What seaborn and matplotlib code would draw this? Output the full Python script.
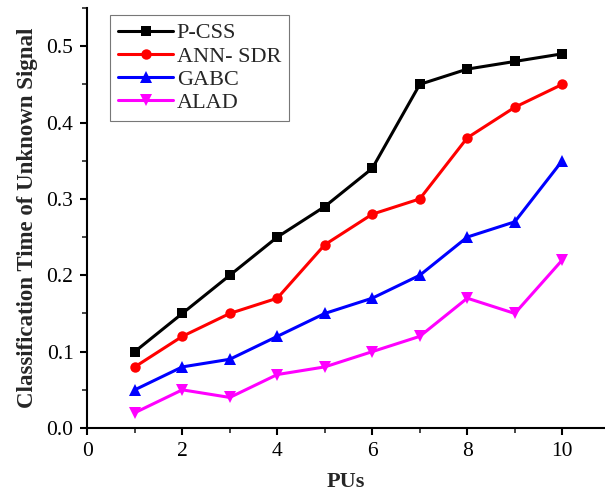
import pandas as pd
import matplotlib.pyplot as plt
from matplotlib.ticker import MultipleLocator
import seaborn as sns

pus = [1, 2, 3, 4, 5, 6, 7, 8, 9, 10]
pcss = [0.10, 0.15, 0.20, 0.25, 0.29, 0.34, 0.45, 0.47, 0.48, 0.49]
ann_sdr = [0.08, 0.12, 0.15, 0.17, 0.24, 0.28, 0.30, 0.38, 0.42, 0.45]
gabc = [0.05, 0.08, 0.09, 0.12, 0.15, 0.17, 0.20, 0.25, 0.27, 0.35]
alad = [0.02, 0.05, 0.04, 0.07, 0.08, 0.10, 0.12, 0.17, 0.15, 0.22]
names = ['P-CSS', 'ANN- SDR', 'GABC', 'ALAD']

df = pd.concat([
    pd.DataFrame({'PUs': pus, 'time': vals, 'method': name})
    for name, vals in zip(names, [pcss, ann_sdr, gabc, alad])
])

sns.set_style("ticks")
plt.rcParams['font.family'] = ['Liberation Serif', 'DejaVu Serif']

fig = plt.figure(figsize=(6.05, 4.94), dpi=100)
ax = fig.add_axes([0.1443, 0.1336, 0.8557, 0.8502])

ax = sns.lineplot(
    data=df, x='PUs', y='time', hue='method', style='method',
    markers={'P-CSS': 's', 'ANN- SDR': 'o', 'GABC': '^', 'ALAD': 'v'},
    dashes=False,
    palette={'P-CSS': '#000000', 'ANN- SDR': '#ff0000', 'GABC': '#0000ff', 'ALAD': '#ff00ff'},
    linewidth=2.2, markersize=7.5, markeredgewidth=0, ax=ax
)
# triangles look a bit larger in the original
for ln in ax.lines:
    if ln.get_marker() in ('^', 'v'):
        ln.set_markersize(9)

ax.set_xlim(0, 10.9)
ax.set_ylim(0, 0.55)
ax.xaxis.set_major_locator(MultipleLocator(2))
ax.xaxis.set_minor_locator(MultipleLocator(1))
ax.yaxis.set_major_locator(MultipleLocator(0.1))
ax.yaxis.set_minor_locator(MultipleLocator(0.05))
ax.yaxis.set_major_formatter(plt.FuncFormatter(lambda v, p: f"{v:.1f}"))
ax.tick_params(axis='both', which='major', direction='out', length=5, width=1.5,
               labelsize=15.5, colors='black', pad=5)
ax.tick_params(axis='both', which='minor', direction='out', length=3.5, width=1.2)
for s in ['top', 'right']:
    ax.spines[s].set_visible(False)
for s in ['left', 'bottom']:
    ax.spines[s].set_linewidth(1.5)
    ax.spines[s].set_color('black')

ax.set_xlabel('PUs', fontweight='bold', fontsize=16, labelpad=8)
ax.set_ylabel('Classification Time of Unknown Signal', fontweight='bold', fontsize=16.5,
              labelpad=6)

leg = ax.legend(loc='upper left', bbox_to_anchor=(0.044, 0.983), borderaxespad=0,
                fontsize=16, handlelength=2.5, handletextpad=0.15, labelspacing=0.12,
                frameon=True, fancybox=False, edgecolor='#555555', borderpad=0.35)
leg.get_frame().set_linewidth(0.8)
for h in leg.legend_handles:
    if h.get_marker() in ('^', 'v'):
        h.set_markersize(9)

fig.savefig('out.png', dpi=100)
